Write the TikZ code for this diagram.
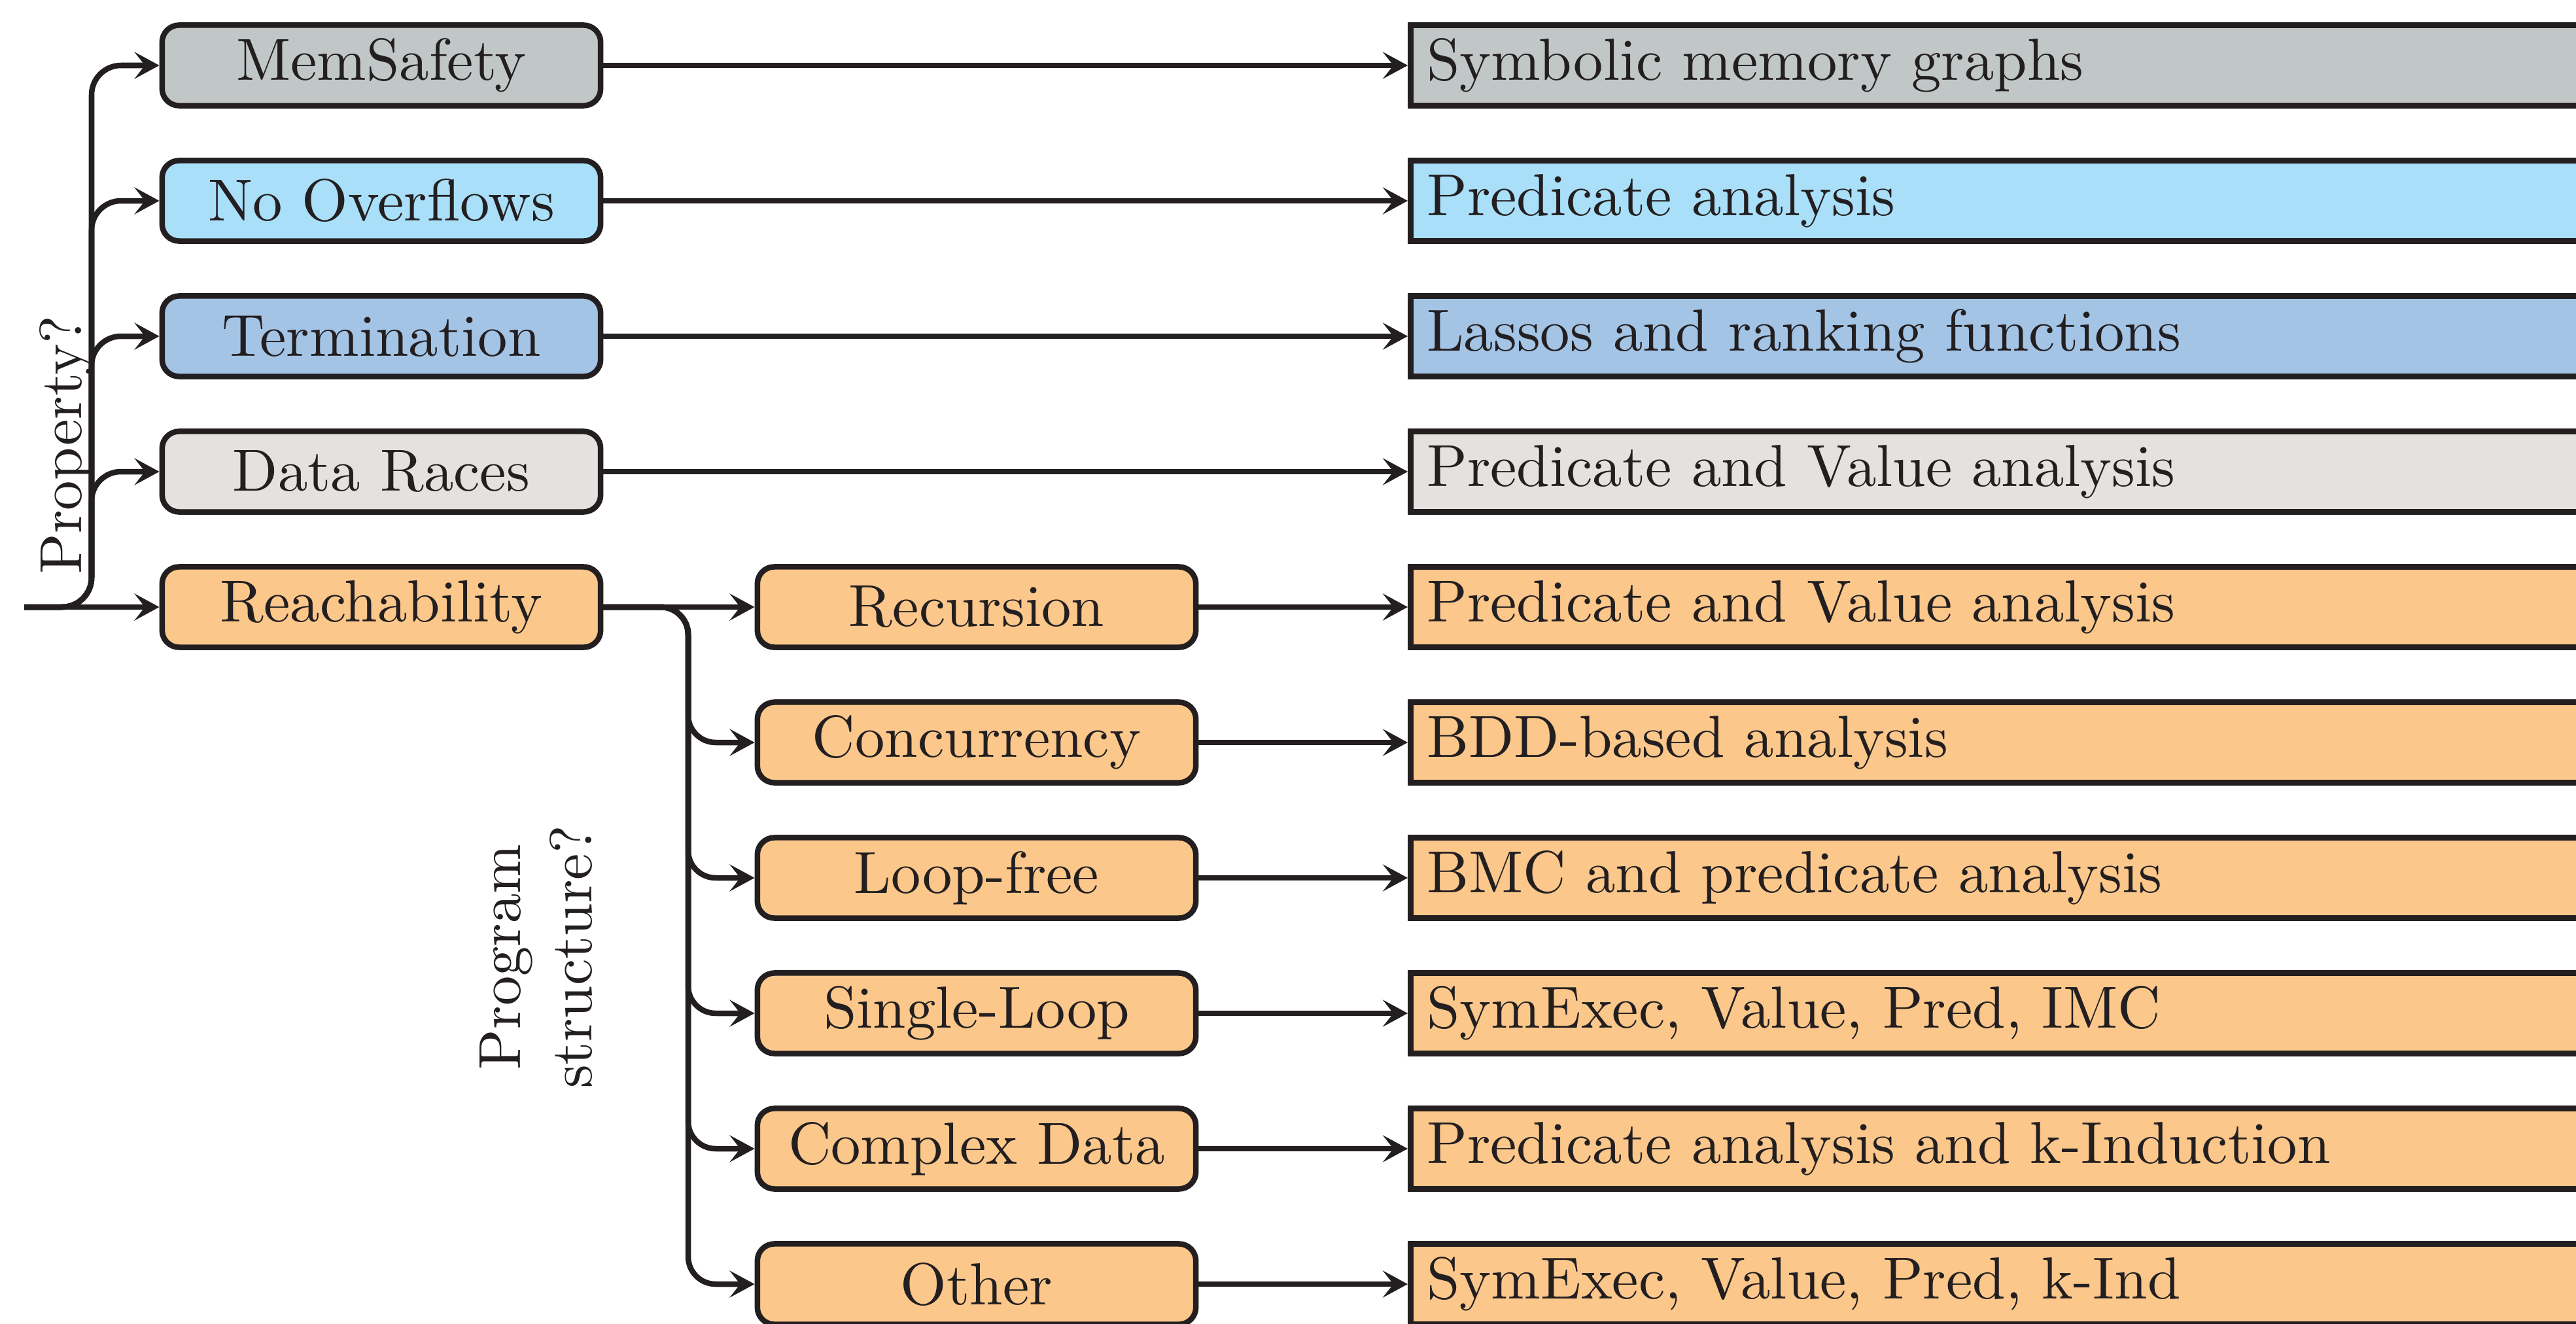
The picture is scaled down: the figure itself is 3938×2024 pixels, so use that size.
\documentclass[tikz,border=0pt]{standalone}
\usetikzlibrary{arrows.meta}
\definecolor{ink}{RGB}{35,31,32}
\definecolor{cmem}{RGB}{193,199,198}
\definecolor{cover}{RGB}{169,223,248}
\definecolor{cterm}{RGB}{164,196,230}
\definecolor{cdata}{RGB}{228,225,222}
\definecolor{corange}{RGB}{251,199,139}
\newcommand\T[1]{\scalebox{2.58}{#1}}
\begin{document}
\begin{tikzpicture}[x=0.01cm,y=-0.01cm,
 box/.style={draw=ink, line width=0.085cm, rounded corners=0.26cm, minimum width=6.70cm, minimum height=1.23cm, inner sep=0pt, text=ink},
 res/.style={draw=ink, line width=0.085cm, anchor=west, minimum height=1.23cm, text width=20cm, inner xsep=0.25cm, inner ysep=0pt, align=left, text=ink},
 conn/.style={draw=ink, line width=0.085cm, -{Stealth[length=0.38cm,width=0.41cm,inset=0.16cm]}, rounded corners=0.45cm},
 conn2/.style={conn, rounded corners=0.42cm},
 lbl/.style={rotate=90, text=ink, inner sep=0pt}
]
\useasboundingbox (0,0) rectangle (3938,2024);
\clip (0,0) rectangle (3938,2024);

% left column
\node[box, fill=cmem]    (mem)   at (583,100) {\T{MemSafety}};
\node[box, fill=cover]   (over)  at (583,307) {\T{No Overflows}};
\node[box, fill=cterm]   (term)  at (583,514) {\T{Termination}};
\node[box, fill=cdata]   (data)  at (583,721) {\T{Data Races}};
\node[box, fill=corange] (reach) at (583,928) {\T{Reachability}};

% middle column
\node[box, fill=corange] (rec)    at (1493,928)  {\T{Recursion}};
\node[box, fill=corange] (conc)   at (1493,1135) {\T{Concurrency}};
\node[box, fill=corange] (loop)   at (1493,1342) {\T{Loop-free}};
\node[box, fill=corange] (single) at (1493,1549) {\T{Single-Loop}};
\node[box, fill=corange] (cplx)   at (1493,1756) {\T{Complex Data}};
\node[box, fill=corange] (other)  at (1493,1963) {\T{Other}};

% right column
\node[res, fill=cmem]    (rmem)    at (2152,100)  {\T{Symbolic memory graphs}};
\node[res, fill=cover]   (rover)   at (2152,307)  {\T{Predicate analysis}};
\node[res, fill=cterm]   (rterm)   at (2152,514)  {\T{Lassos and ranking functions}};
\node[res, fill=cdata]   (rdata)   at (2152,721)  {\T{Predicate and Value analysis}};
\node[res, fill=corange] (rrec)    at (2152,928)  {\T{Predicate and Value analysis}};
\node[res, fill=corange] (rconc)   at (2152,1135) {\T{BDD-based analysis}};
\node[res, fill=corange] (rloop)   at (2152,1342) {\T{BMC and predicate analysis}};
\node[res, fill=corange] (rsingle) at (2152,1549) {\T{SymExec, Value, Pred, IMC}};
\node[res, fill=corange] (rcplx)   at (2152,1756) {\T{Predicate analysis and k-Induction}};
\node[res, fill=corange] (rother)  at (2152,1963) {\T{SymExec, Value, Pred, k-Ind}};

% labels
\node[lbl, anchor=base] (prop) at (124,680) {\T{Property?}};
\node[lbl] (prog) at (828,1463) {\T{\begin{tabular}{@{}c@{}}Program\\structure?\end{tabular}}};

% first split
\coordinate (in) at (37,928);
\coordinate (split) at (140,928);
\draw[conn] (in) -- (reach.west);
\foreach \n in {mem,over,term,data}
  \draw[conn] (in) -- (split) |- (\n.west);

% second split
\coordinate (split2) at (1052,928);
\draw[conn] (reach.east) -- (rec.west);
\foreach \n in {conc,loop,single,cplx,other}
  \draw[conn2] (reach.east) -- (split2) |- (\n.west);

% to results
\foreach \a/\b in {mem/rmem,over/rover,term/rterm,data/rdata,rec/rrec,conc/rconc,loop/rloop,single/rsingle,cplx/rcplx,other/rother}
  \draw[conn] (\a.east) -- (\b.west);
\end{tikzpicture}
\end{document}
